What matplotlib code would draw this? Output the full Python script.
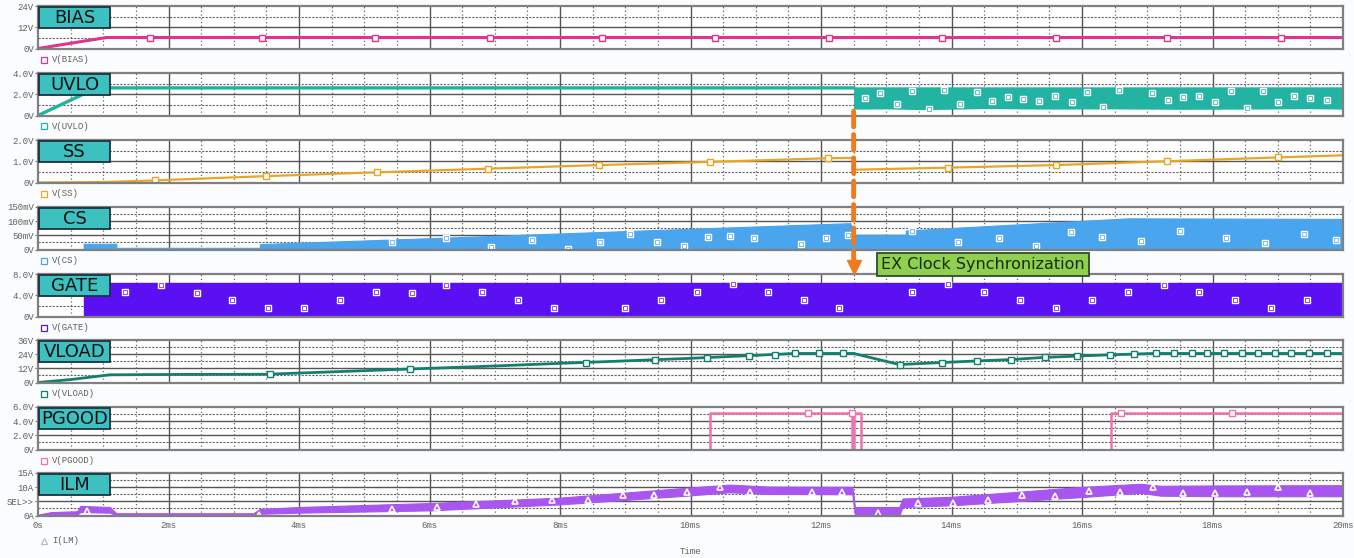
import matplotlib
matplotlib.use('Agg')
import matplotlib.pyplot as plt
from matplotlib.patches import ConnectionPatch

# ---- data, time in ms ----
sync_t = 12.5

bias_t = [0, 1.05, 20]
bias_v = [0, 6.2, 6.2]
bias_mk_t = [1.71, 3.44, 5.17, 6.92, 8.65, 10.37, 12.12, 13.85, 15.6, 17.3, 19.05]
bias_mk_v = [6.2, 6.2, 6.2, 6.2, 6.2, 6.2, 6.2, 6.2, 6.2, 6.2, 6.2]

uvlo_t = [0, 0.9, 12.5]
uvlo_v = [0, 2.6, 2.6]
uvlo_band_t = [12.5, 13.0, 13.6, 14.5, 15.5, 16.5, 17.5, 18.5, 19.5, 20.0]
uvlo_band_lo = [0.6, 0.62, 0.55, 0.65, 0.6, 0.62, 0.58, 0.6, 0.64, 0.6]
uvlo_band_hi = [2.7, 2.7, 2.7, 2.7, 2.7, 2.7, 2.7, 2.7, 2.7, 2.7]
uvlo_mk_t = [12.67, 12.9, 13.16, 13.4, 13.66, 13.88, 14.13, 14.39, 14.62, 14.87, 15.1, 15.34,
             15.58, 15.84, 16.08, 16.32, 16.57, 17.07, 17.32, 17.55, 17.8, 18.04, 18.28, 18.53,
             18.77, 19.0, 19.25, 19.49, 19.75]
uvlo_mk_v = [1.65, 2.1, 1.09, 2.26, 0.65, 2.36, 1.09, 2.17, 1.4, 1.74, 1.58, 1.33,
             1.86, 1.24, 2.17, 0.77, 2.42, 2.14, 1.43, 1.77, 1.83, 1.24, 2.33, 0.74,
             2.26, 1.24, 1.86, 1.65, 1.43]

ss_t = [0, 1.0, 1.8, 3.5, 5.2, 6.9, 8.6, 10.3, 12.1, 12.5, 12.5, 13.95, 15.6, 17.3, 19.0, 20.0]
ss_v = [0, 0.02, 0.1, 0.3, 0.48, 0.65, 0.82, 0.97, 1.14, 1.16, 0.6, 0.7, 0.82, 1.0, 1.18, 1.28]
ss_mk_t = [1.8, 3.5, 5.2, 6.9, 8.6, 10.3, 12.1, 13.95, 15.6, 17.3, 19.0]
ss_mk_v = [0.1, 0.3, 0.48, 0.65, 0.82, 0.97, 1.14, 0.7, 0.82, 1.0, 1.18]

cs_t = [0, 0.7, 0.7, 1.2, 1.2, 3.4, 3.4, 6.0, 9.0, 12.45, 12.5, 13.3, 13.3, 16.7, 20.0]
cs_hi = [0, 0, 20, 20, 6, 6, 19, 40, 65, 93, 52, 52, 67, 110, 108]
cs_mk_t = [5.42, 6.26, 6.95, 7.57, 8.13, 8.61, 9.07, 9.49, 9.9, 10.27, 10.61, 10.97, 11.7, 12.08,
           12.42, 13.4, 14.1, 14.73, 15.3, 15.83, 16.31, 16.9, 17.5, 18.2, 18.8, 19.4, 19.9]
cs_mk_v = [26, 41, 7.5, 32, 1, 26, 54, 26, 14, 45, 47, 39, 20, 39,
           51, 66, 26, 39, 11, 61, 45, 30, 65, 40, 22, 55, 35]

gate_t = [0, 0.7, 0.7, 20]
gate_hi = [0, 0, 6.4, 6.4]
gate_mk_t = [1.33, 1.88, 2.43, 2.98, 3.53, 4.08, 4.63, 5.18, 5.73, 6.26, 6.81, 7.36, 7.91, 9.0,
             9.55, 10.1, 10.65, 11.19, 11.74, 12.28, 13.4, 13.95, 14.5, 15.05, 15.6, 16.15,
             16.7, 17.25, 17.8, 18.35, 18.9, 19.45]
gate_mk_v = [4.6, 6.0, 4.4, 3.05, 1.6, 1.6, 3.1, 4.6, 4.5, 6.0, 4.6, 3.05, 1.65, 1.65,
             3.2, 4.6, 6.2, 4.6, 3.1, 1.65, 4.6, 6.1, 4.6, 3.05, 1.65, 3.1,
             4.6, 6.0, 4.6, 3.05, 1.65, 3.1]

vload_t = [0, 0.5, 1.1, 2.0, 3.5, 5.0, 6.0, 7.0, 8.0, 9.0, 10.0, 11.0, 11.6, 12.5, 13.2,
           13.85, 14.4, 14.9, 15.4, 15.9, 16.4, 17.1, 18.0, 20.0]
vload_v = [0, 2.5, 6.5, 6.8, 7.0, 10.0, 12.0, 14.0, 16.2, 18.3, 20.5, 23.0, 24.6, 24.6, 15.2,
           16.9, 18.3, 19.4, 21.2, 22.3, 23.4, 24.6, 24.6, 24.6]
vload_mk_t = [3.55, 5.7, 8.4, 9.45, 10.25, 10.9, 11.3, 11.6, 11.97, 12.33, 13.21, 13.85, 14.39,
              14.91, 15.43, 15.92, 16.43, 16.8, 17.14, 17.41, 17.68, 17.92, 18.18, 18.45, 18.7,
              18.96, 19.21, 19.48, 19.75]
vload_mk_v = [7.0, 11.4, 16.9, 19.0, 20.8, 22.4, 23.6, 24.6, 24.6, 24.6, 15.2, 16.9, 18.3,
              19.4, 21.2, 22.3, 23.4, 24.0, 24.6, 24.6, 24.6, 24.6, 24.6, 24.6, 24.6,
              24.6, 24.6, 24.6, 24.6]

pg_t = [0, 10.3, 10.3, 12.47, 12.47, 12.5, 12.5, 12.62, 12.62, 16.45, 16.45, 20]
pg_v = [0, 0, 5.1, 5.1, 0, 0, 5.1, 5.1, 0, 0, 5.1, 5.1]
pg_mk_t = [11.8, 12.47, 16.6, 18.3]
pg_mk_v = [5.1, 5.1, 5.1, 5.1]

ilm_t = [0, 0.2, 0.6, 0.65, 1.1, 1.2, 3.3, 3.4, 4.0, 6.0, 8.0, 10.0, 10.6, 11.2, 12.48, 12.52,
         13.2, 13.25, 14.0, 16.0, 16.9, 17.2, 18.0, 20.0]
ilm_lo = [0, 0.2, 0.3, 1.2, 1.0, 0.1, 0.1, 0.6, 1.0, 1.8, 3.9, 7.1, 8.2, 7.6, 7.5, 0.0,
          0.0, 3.0, 3.6, 6.5, 8.0, 7.0, 6.8, 6.8]
ilm_hi = [0.3, 1.2, 1.5, 3.4, 3.0, 0.8, 0.8, 2.3, 3.0, 4.4, 6.3, 9.9, 10.9, 10.2, 10.1, 3.0,
          3.0, 6.0, 6.6, 10.1, 11.2, 10.5, 10.6, 10.7]
ilm_mk_t = [0.75, 3.39, 5.42, 6.11, 6.72, 7.31, 7.88, 8.43, 8.96, 9.44, 9.94, 10.45, 10.91,
            11.86, 12.32, 12.88, 13.49, 14.03, 14.56, 15.08, 15.59, 16.1, 16.58, 17.09, 17.55,
            18.04, 18.53, 19.0, 19.49]
ilm_mk_v = [1.5, 0.3, 2.2, 2.9, 4.2, 5.0, 5.6, 5.6, 7.1, 7.4, 8.3, 9.9, 8.3,
            8.3, 8.3, 0.8, 4.4, 4.4, 5.4, 7.1, 6.9, 8.6, 8.3, 10.1, 8.0,
            8.0, 8.3, 10.1, 8.0]

names = ['BIAS', 'UVLO', 'SS', 'CS', 'GATE', 'VLOAD', 'PGOOD', 'ILM']
legends = ['V(BIAS)', 'V(UVLO)', 'V(SS)', 'V(CS)', 'V(GATE)', 'V(VLOAD)', 'V(PGOOD)', 'I(LM)']
colors = ['#e2348c', '#22b3a2', '#e9a623', '#4aa5ef', '#5a10f2', '#128070', '#f172aa', '#a956f0']
yticks = [[0, 12, 24], [0, 2, 4], [0, 1, 2], [0, 50, 100, 150], [0, 4, 8],
          [0, 12, 24, 36], [0, 2, 4, 6], [0, 5, 10, 15]]
ylabels = [['0V', '12V', '24V'], ['0V', '2.0V', '4.0V'], ['0V', '1.0V', '2.0V'],
           ['0V', '50mV', '100mV', '150mV'], ['0V', '4.0V', '8.0V'],
           ['0V', '12V', '24V', '36V'], ['0V', '2.0V', '4.0V', '6.0V'],
           ['0A', 'SEL>>', '10A', '15A']]
xticks = [0, 2, 4, 6, 8, 10, 12, 14, 16, 18, 20]
xlabels = ['0s', '2ms', '4ms', '6ms', '8ms', '10ms', '12ms', '14ms', '16ms', '18ms', '20ms']

W, H = 1354, 558
mono = 'Liberation Mono'
gray = '#606060'

fig = plt.figure(figsize=(W / 100, H / 100), dpi=100, facecolor='#fbfcfd')

left, right = 38, 1343
tops = [6, 73, 140, 207, 274, 340, 407, 473]
ph = 42.5
axes = []
for i, name in enumerate(names):
    ax = fig.add_axes([left / W, 1 - (tops[i] + ph) / H, (right - left) / W, ph / H])
    ax.set_facecolor('white')
    ax.set_xlim(0, 20)
    yt = yticks[i]
    ax.set_ylim(yt[0], yt[-1])
    # grid: solid at majors, dotted in between
    for x in range(1, 40):
        xv = x * 0.5
        if xv % 2 == 0:
            ax.axvline(xv, color='#555555', lw=1.0, zorder=0)
        else:
            ax.axvline(xv, color='#666666', lw=0.9, ls=(0, (1, 2)), zorder=0)
    for k in range(len(yt) - 1):
        if k > 0:
            ax.axhline(yt[k], color='#555555', lw=1.0, zorder=0)
        ax.axhline((yt[k] + yt[k + 1]) / 2, color='#666666', lw=0.8, ls=(0, (2, 1.2)), zorder=0)
    ax.set_yticks(yt)
    ax.set_yticklabels(ylabels[i], fontfamily=mono, fontsize=6.5, color=gray)
    ax.set_xticks(xticks)
    if i == len(names) - 1:
        ax.set_xticklabels(xlabels, fontfamily=mono, fontsize=6.5, color=gray)
    else:
        ax.set_xticklabels([])
    ax.tick_params(length=2, width=0.8, color='#777777', pad=1)
    ax.tick_params(axis='x', length=0, pad=4)
    for s in ax.spines.values():
        s.set_color('#808080')
        s.set_linewidth(1.6)
    axes.append(ax)

a = axes
# BIAS
a[0].plot(bias_t, bias_v, color=colors[0], lw=2.2)
a[0].plot(bias_mk_t, bias_mk_v, ls='none', marker='s', ms=4, mfc='white', mec=colors[0], mew=1)
# UVLO
a[1].plot(uvlo_t, uvlo_v, color=colors[1], lw=2.4)
a[1].fill_between(uvlo_band_t, uvlo_band_lo, uvlo_band_hi, color=colors[1], lw=0)
# SS
a[2].plot(ss_t, ss_v, color=colors[2], lw=1.6)
a[2].plot(ss_mk_t, ss_mk_v, ls='none', marker='s', ms=4, mfc='white', mec=colors[2], mew=1)
# CS
a[3].fill_between(cs_t, 0, cs_hi, color=colors[3], lw=0.8, ec=colors[3])
# GATE
a[4].fill_between(gate_t, 0, gate_hi, color=colors[4], lw=1.0, ec=colors[4])
# VLOAD
a[5].plot(vload_t, vload_v, color=colors[5], lw=2.0)
a[5].plot(vload_mk_t, vload_mk_v, ls='none', marker='s', ms=4, mfc='white', mec=colors[5], mew=1)
# PGOOD
a[6].plot(pg_t, pg_v, color=colors[6], lw=1.8)
a[6].plot(pg_mk_t, pg_mk_v, ls='none', marker='s', ms=4, mfc='white', mec=colors[6], mew=1)
# ILM
a[7].fill_between(ilm_t, ilm_lo, ilm_hi, color=colors[7], lw=0.8, ec=colors[7])
a[7].plot(ilm_mk_t, ilm_mk_v, ls='none', marker='^', ms=4, mfc='none', mec='white', mew=1.2)

# "[.]" markers inside the filled bands
for ax, mt, mv, c in [(a[1], uvlo_mk_t, uvlo_mk_v, colors[1]),
                      (a[3], cs_mk_t, cs_mk_v, colors[3]),
                      (a[4], gate_mk_t, gate_mk_v, colors[4])]:
    ax.plot(mt, mv, ls='none', marker='s', ms=4, mfc=c, mec='white', mew=1.0)
    ax.plot(mt, mv, ls='none', marker='s', ms=1.4, mfc='white', mec='white')

# legend entries under each panel
for i, ax in enumerate(a):
    yy = tops[i] + ph + (25 if i == len(a) - 1 else 11)
    mk = '^' if i == len(a) - 1 else 's'
    fig.lines.append(plt.Line2D([44 / W], [1 - yy / H], transform=fig.transFigure, marker=mk,
                                ms=4, mfc='white', mec=colors[i] if i < 7 else '#bbbbbb', mew=0.9))
    fig.text(52 / W, 1 - yy / H, legends[i], fontfamily=mono, fontsize=6.5, color=gray,
             va='center', ha='left')

# signal name boxes
for i, name in enumerate(names):
    r = plt.Rectangle((39 / W, 1 - (tops[i] + 22) / H), 71 / W, 21 / H, transform=fig.transFigure,
                      fc='#3cc0c0', ec='#1a3340', lw=1.3, zorder=10)
    fig.patches.append(r)
    fig.text(74.5 / W, 1 - (tops[i] + 12) / H, name, fontsize=13, color='#111111',
             ha='center', va='center', zorder=11)

fig.text(690 / W, 1 - 551 / H, 'Time', fontfamily=mono, fontsize=6.5, color=gray, ha='center',
         va='center')

# sync annotation
con = ConnectionPatch(xyA=(sync_t, 0.4), coordsA=a[1].transData,
                      xyB=(sync_t, 9.8), coordsB=a[4].transData,
                      color='#f07a1e', lw=3.5, ls=(0, (3.2, 1.6)), zorder=20)
fig.add_artist(con)
a[4].plot([sync_t], [9.3], marker='v', ms=10, color='#f07a1e', clip_on=False, zorder=20)
fig.text(983 / W, 1 - 264.5 / H, 'EX Clock Synchronization', fontsize=11.5, color='#1b2a10',
         ha='center', va='center', zorder=21,
         bbox=dict(boxstyle='square,pad=0.25', fc='#8fd050', ec='#2f4d2a', lw=1.3))

fig.savefig('out.png', dpi=100, facecolor=fig.get_facecolor())
